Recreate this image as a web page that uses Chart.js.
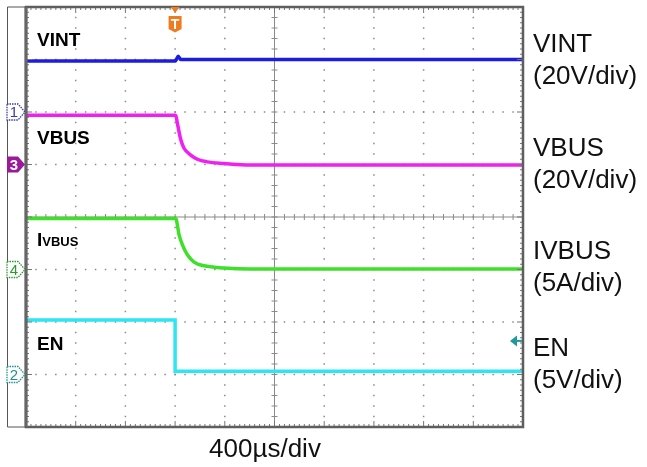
<!DOCTYPE html>
<html>
<head>
<meta charset="utf-8">
<script src="https://cdn.jsdelivr.net/npm/chart.js@4.4.1/dist/chart.umd.min.js"></script>
<style>
body{margin:0;background:#fff;width:647px;height:467px;overflow:hidden;position:relative;font-family:"Liberation Sans",Arial,sans-serif}
canvas{position:absolute;left:0;top:0}
.lbl{position:absolute;left:37px;font-weight:bold;font-size:19px;line-height:20px;color:#000}
.lbl small{font-size:13px}
.rl{position:absolute;left:533px;font-size:26px;line-height:32px;color:#111}
.xl{position:absolute;left:0;width:530px;text-align:center;top:433px;font-size:26px;color:#111}
.mk{position:absolute;width:16px;text-align:center;font-size:15px;line-height:16px}
</style>
</head>
<body>
<canvas id="scope" width="647" height="467"></canvas>

<div class="lbl" style="top:30px">VINT</div>
<div class="lbl" style="top:128px">VBUS</div>
<div class="lbl" style="top:230px">I<small>VBUS</small></div>
<div class="lbl" style="top:334px">EN</div>

<div class="rl" style="top:27px">VINT<br>(20V/div)</div>
<div class="rl" style="top:131px">VBUS<br>(20V/div)</div>
<div class="rl" style="top:234px">IVBUS<br>(5A/div)</div>
<div class="rl" style="top:331px">EN<br>(5V/div)</div>

<div class="xl">400µs/div</div>

<div id="m1" class="mk" style="color:#3a3aa8">1</div>
<div id="m3" class="mk" style="color:#fff;font-weight:bold">3</div>
<div id="m4" class="mk" style="color:#2e9a2e">4</div>
<div id="m2" class="mk" style="color:#1f9090">2</div>
<div id="mt" class="mk" style="color:#fff;font-weight:bold;font-size:14px">T</div>

<script>
// time in µs (trigger at 0), 400µs/div, 10 divs
let tMin=-1200
let tMax=2800
let tStep=400
// vertical in screen divisions, 8 divs, centre = 0
let dMin=-4
let dMax=4

// traces (position in divisions)
let vintT=[-1200,0,10,25,45,2800]
let vintV=[2.97,2.97,3.0,3.06,3.0,3.0]

let vbusT=[-1200,5,18,46,72,126,179,257,394,600,2800]
let vbusV=[1.94,1.94,1.79,1.47,1.31,1.18,1.10,1.05,1.02,0.99,0.99]

let ivbusT=[-1200,5,32,59,99,153,233,394,600,2800]
let ivbusV=[-0.03,-0.03,-0.34,-0.53,-0.72,-0.86,-0.93,-0.97,-0.99,-0.99]

let enT=[-1200,0,0,2800]
let enV=[-1.96,-1.96,-2.94,-2.94]

// channel ground markers and trigger level
let markerCh=["1","3","4","2"]
let markerPos=[2,1,-1,-3]
let trigLevel=-2.36

function pts(t,v){
return t.map((x,i)=>({x:x,y:v[i]}))
}

let scopeGrid={
id:"scopeGrid",
beforeDatasetsDraw(chart){
let c=chart.ctx
let a=chart.chartArea
let xs=chart.scales.x
let ys=chart.scales.y
let w=a.right-a.left
let h=a.bottom-a.top
c.save()
c.fillStyle="#8a8a8a"
// vertical dotted lines
for(let i=1;i<10;i++){
let x=xs.getPixelForValue(tMin+i*tStep)
for(let j=1;j<40;j++){
let y=a.top+j*h/40
if(i==5){
c.fillRect(x-3,y-0.5,6,1)
}else{
c.fillRect(x-0.75,y-0.75,1.5,1.5)
}
}
if(i==5)c.fillRect(x-0.5,a.top,1,h)
}
// horizontal dotted lines
for(let k=1;k<8;k++){
let y=ys.getPixelForValue(dMin+k)
for(let j=1;j<50;j++){
let x=a.left+j*w/50
if(k==4){
c.fillRect(x-0.5,y-3,1,6)
}else{
c.fillRect(x-0.75,y-0.75,1.5,1.5)
}
}
if(k==4)c.fillRect(a.left,y-0.5,w,1)
}
c.restore()
},
afterDatasetsDraw(chart){
let c=chart.ctx
let a=chart.chartArea
let xs=chart.scales.x
let ys=chart.scales.y
let w=a.right-a.left
let h=a.bottom-a.top
c.save()
// border ticks
c.fillStyle="#777"
for(let j=1;j<100;j++){
let x=a.left+j*w/100
let l=(j%10==0)?6:3
c.fillRect(x-0.5,a.top,1,l)
c.fillRect(x-0.5,a.bottom-l,1,l)
}
for(let j=1;j<80;j++){
let y=a.top+j*h/80
let l=(j%10==0)?6:3
c.fillRect(a.left,y-0.5,l,1)
c.fillRect(a.right-l,y-0.5,l,1)
}
// frame
c.strokeStyle="#5e5e5e"
c.lineWidth=2.5
c.strokeRect(a.left,a.top,w,h)
c.lineWidth=3
c.strokeStyle="#666"
c.beginPath()
c.moveTo(a.left,a.top)
c.lineTo(a.left,a.bottom)
c.stroke()
c.lineWidth=1
c.strokeStyle="#555"
c.beginPath()
c.moveTo(7.5,a.top)
c.lineTo(7.5,a.bottom)
c.moveTo(7.5,a.top)
c.lineTo(a.left,a.top)
c.moveTo(7.5,a.bottom)
c.lineTo(a.left,a.bottom)
c.stroke()

// channel markers
let mcol=["#3a3aa8","#9a1a9a","#2e9a2e","#1f9090"]
markerPos.forEach((p,i)=>{
let y=ys.getPixelForValue(p)
c.beginPath()
c.moveTo(7,y-8)
c.lineTo(18,y-8)
c.lineTo(25,y)
c.lineTo(18,y+8)
c.lineTo(7,y+8)
c.closePath()
if(i==1){
c.fillStyle=mcol[i]
c.fill()
}else{
c.fillStyle="#fff"
c.fill()
c.setLineDash([1.5,1])
c.strokeStyle=mcol[i]
c.lineWidth=1.3
c.stroke()
c.setLineDash([])
}
})

// trigger position marker
let tx=xs.getPixelForValue(0)
c.fillStyle="#f07a1e"
c.beginPath()
c.moveTo(tx-4.5,7)
c.lineTo(tx+4.5,7)
c.lineTo(tx,13)
c.closePath()
c.fill()
c.beginPath()
c.moveTo(tx-6.5,16)
c.lineTo(tx+6.5,16)
c.lineTo(tx+6.5,29)
c.lineTo(tx,32.5)
c.lineTo(tx-6.5,29)
c.closePath()
c.fill()

// trigger level arrow
let ty=ys.getPixelForValue(trigLevel)
c.fillStyle="#1f9a9a"
c.beginPath()
c.moveTo(a.right-13,ty)
c.lineTo(a.right-6,ty-5.5)
c.lineTo(a.right-6,ty+5.5)
c.closePath()
c.fill()
c.fillRect(a.right-7,ty-1,6,2)
c.restore()
}
}

let chart=new Chart(document.getElementById("scope"),{
type:"line",
data:{
datasets:[
{label:"VINT",data:pts(vintT,vintV),borderColor:"#1c1ce0",cubicInterpolationMode:"monotone"},
{label:"VBUS",data:pts(vbusT,vbusV),borderColor:"#f020f0",cubicInterpolationMode:"monotone"},
{label:"IVBUS",data:pts(ivbusT,ivbusV),borderColor:"#3fe02a",cubicInterpolationMode:"monotone"},
{label:"EN",data:pts(enT,enV),borderColor:"#2ee6f2"}
]
},
plugins:[scopeGrid],
options:{
responsive:false,
animation:false,
layout:{padding:{left:26,top:7,right:124,bottom:40}},
elements:{
point:{radius:0},
line:{borderWidth:3.5}
},
plugins:{legend:{display:false},tooltip:{enabled:false}},
scales:{
x:{type:"linear",min:tMin,max:tMax,display:false},
y:{type:"linear",min:dMin,max:dMax,display:false}
}
}
})

// place marker digits
let ys=chart.scales.y
let ids=["m1","m3","m4","m2"]
markerPos.forEach((p,i)=>{
let el=document.getElementById(ids[i])
el.innerText=markerCh[i]
el.style.left="6px"
el.style.top=(ys.getPixelForValue(p)-8)+"px"
})
let mt=document.getElementById("mt")
mt.style.left=(chart.scales.x.getPixelForValue(0)-8)+"px"
mt.style.top="16px"
</script>
</body>
</html>
